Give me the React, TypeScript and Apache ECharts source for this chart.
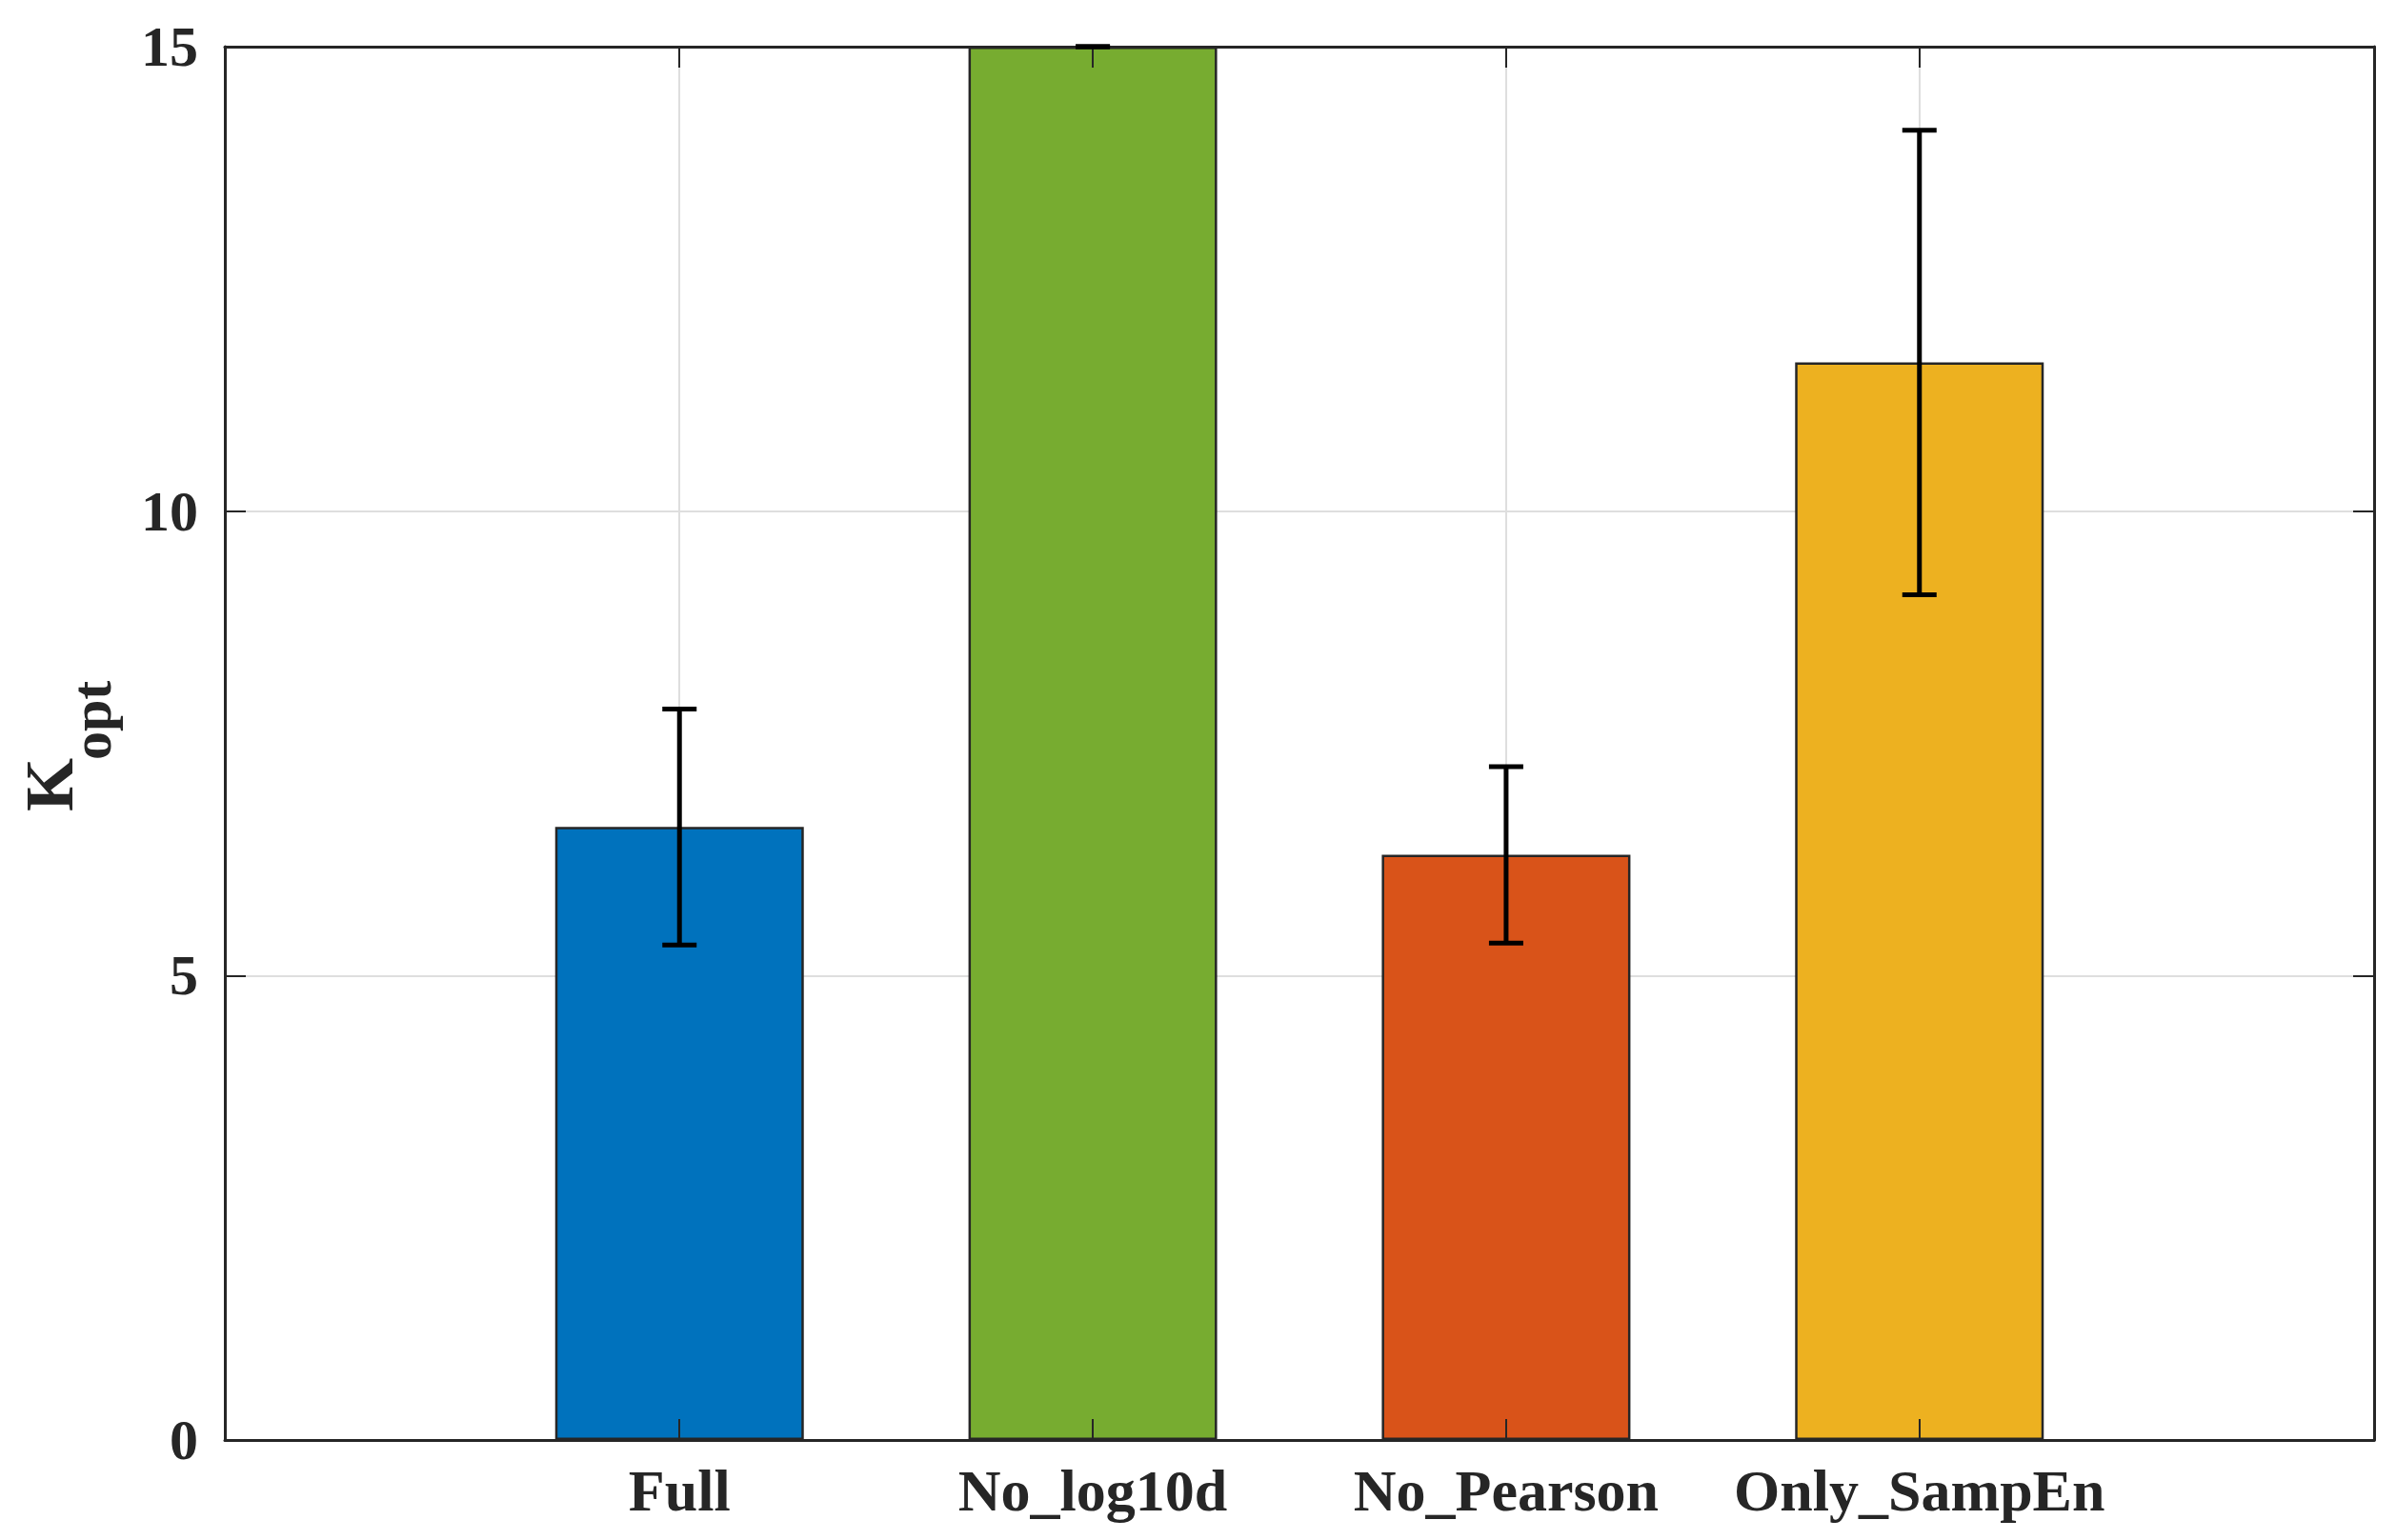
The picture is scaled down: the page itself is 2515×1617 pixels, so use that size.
import React, { useEffect, useRef } from "react";
import * as echarts from "echarts";

const categories = ["Full", "No_log10d", "No_Pearson", "Only_SampEn"];
const positions = [1, 2, 3, 4];
const means = [6.6, 15, 6.3, 11.6];
const errors = [1.27, 0, 0.95, 2.5];
const barColors = ["#0072BD", "#77AC30", "#D95319", "#EDB120"];
const yTicks = [0, 5, 10, 15];

export default function App() {
  const ref = useRef<HTMLDivElement>(null);

  useEffect(() => {
    if (!ref.current) return;
    const chart = echarts.init(ref.current, null, { renderer: "svg" });
    const font = "'Liberation Serif', 'Times New Roman', serif";
    const axisColor = "#262626";
    const gridColor = "#dedede";

    const barData = positions.map((x, i) => ({
      value: [x, means[i]],
      itemStyle: { color: barColors[i] },
    }));
    const errData = positions.map((x, i) => [x, means[i] - errors[i], means[i] + errors[i]]);

    const xBase = { type: "value", min: -0.1, max: 5.1 };
    const yBase = { type: "value", min: 0, max: 15, interval: 5 };

    const option: any = {
      animation: false,
      backgroundColor: "#ffffff",
      grid: { left: 236, top: 49, right: 23, bottom: 105, containLabel: false },
      xAxis: [
        {
          ...xBase,
          position: "bottom",
          z: 0,
          axisLine: { show: false },
          axisTick: { show: false, customValues: positions },
          axisLabel: {
            customValues: positions,
            formatter: (v: number) => categories[positions.indexOf(Math.round(v))] ?? "",
            color: axisColor,
            fontFamily: font,
            fontWeight: "bold",
            fontSize: 62,
            margin: 22,
          },
          splitLine: { show: true, lineStyle: { color: gridColor, width: 2 } },
        },
        {
          ...xBase,
          position: "bottom",
          z: 10,
          axisLine: { show: true, onZero: false, lineStyle: { color: axisColor, width: 3 } },
          axisTick: { show: true, inside: true, length: 22, customValues: positions, lineStyle: { color: axisColor, width: 2 } },
          axisLabel: { show: false },
          splitLine: { show: false },
        },
        {
          ...xBase,
          position: "top",
          z: 10,
          axisLine: { show: true, onZero: false, lineStyle: { color: axisColor, width: 3 } },
          axisTick: { show: true, inside: true, length: 22, customValues: positions, lineStyle: { color: axisColor, width: 2 } },
          axisLabel: { show: false },
          splitLine: { show: false },
        },
      ],
      yAxis: [
        {
          ...yBase,
          position: "left",
          z: 0,
          axisLine: { show: false },
          axisTick: { show: false },
          axisLabel: {
            color: axisColor,
            fontFamily: font,
            fontWeight: "bold",
            fontSize: 60,
            margin: 28,
          },
          splitLine: { show: true, lineStyle: { color: gridColor, width: 2 } },
        },
        {
          ...yBase,
          position: "left",
          z: 10,
          axisLine: { show: true, onZero: false, lineStyle: { color: axisColor, width: 3 } },
          axisTick: { show: true, inside: true, length: 22, lineStyle: { color: axisColor, width: 2 } },
          axisLabel: { show: false },
          splitLine: { show: false },
        },
        {
          ...yBase,
          position: "right",
          z: 10,
          axisLine: { show: true, onZero: false, lineStyle: { color: axisColor, width: 3 } },
          axisTick: { show: true, inside: true, length: 22, lineStyle: { color: axisColor, width: 2 } },
          axisLabel: { show: false },
          splitLine: { show: false },
        },
      ],
      graphic: [
        {
          type: "group",
          x: 52,
          y: 852,
          rotation: Math.PI / 2,
          children: [
            {
              type: "text",
              x: 0,
              y: 0,
              style: {
                text: "K",
                font: `bold 72px ${font}`,
                fill: axisColor,
                textAlign: "left",
                textVerticalAlign: "middle",
              },
            },
            {
              type: "text",
              x: 54,
              y: 44,
              style: {
                text: "opt",
                font: `bold 60px ${font}`,
                fill: axisColor,
                textAlign: "left",
                textVerticalAlign: "middle",
              },
            },
          ],
        },
      ],
      series: [
        {
          type: "bar",
          xAxisIndex: 0,
          yAxisIndex: 0,
          barWidth: 261,
          z: 2,
          data: barData,
          itemStyle: { borderColor: "#262626", borderWidth: 2.5 },
        },
        {
          type: "custom",
          xAxisIndex: 0,
          yAxisIndex: 0,
          z: 20,
          clip: false,
          data: errData,
          renderItem: (params: any, api: any) => {
            const x = api.value(0);
            const lo = api.coord([x, api.value(1)]);
            const hi = api.coord([x, api.value(2)]);
            const half = 18;
            const style = { stroke: "#000000", lineWidth: 5 };
            return {
              type: "group",
              children: [
                { type: "line", shape: { x1: lo[0], y1: lo[1], x2: hi[0], y2: hi[1] }, style },
                { type: "line", shape: { x1: hi[0] - half, y1: hi[1], x2: hi[0] + half, y2: hi[1] }, style },
                { type: "line", shape: { x1: lo[0] - half, y1: lo[1], x2: lo[0] + half, y2: lo[1] }, style },
              ],
            };
          },
        },
      ],
    };

    chart.setOption(option);
    return () => chart.dispose();
  }, []);

  return (
    <div
      ref={ref}
      style={{ position: "fixed", left: 0, top: 0, width: 2515, height: 1617, background: "#fff" }}
    />
  );
}
